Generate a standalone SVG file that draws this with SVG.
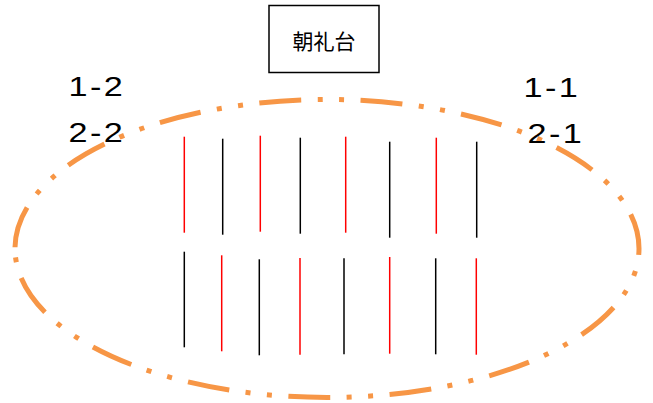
<svg xmlns="http://www.w3.org/2000/svg" width="653" height="403" viewBox="0 0 653 403">
<style>
.lbl{font-family:"Liberation Sans","Noto Sans CJK JP",sans-serif;font-size:28.5px;fill:#000;letter-spacing:2px}
.r{stroke:#ff0000;stroke-width:1.5}
.k{stroke:#000;stroke-width:1.5}
</style>
<rect width="653" height="403" fill="#fff"/>
<g id="ellipse">
<path d="M15,248.5 A312,149 0 1 1 639,248.5 A312,149 0 1 1 15,248.5" fill="none" stroke="#f79646" stroke-width="5" stroke-dasharray="42 16.5 5 16.5 5 16.4" stroke-dashoffset="-1.3"/>
</g>
<g id="stage">
<rect x="269" y="5.5" width="110" height="67" fill="#fff" stroke="#000" stroke-width="1.5"/>
<text x="324" y="49" text-anchor="middle" font-family="'Noto Sans CJK JP',sans-serif" font-size="21" fill="#000">朝礼台</text>
</g>
<g id="labels">
<text class="lbl" transform="translate(68.5,96) scale(1.2,1)">1-2</text>
<text class="lbl" transform="translate(68.5,142) scale(1.2,1)">2-2</text>
<text class="lbl" transform="translate(523.5,97) scale(1.2,1)">1-1</text>
<text class="lbl" transform="translate(527.5,143) scale(1.2,1)">2-1</text>
</g>
<g id="connectors">
<line class="r" x1="184.3" y1="136.7" x2="184.3" y2="232.7"/>
<line class="k" x1="222.7" y1="138.7" x2="222.7" y2="234.7"/>
<line class="r" x1="260.3" y1="135.7" x2="260.3" y2="231.7"/>
<line class="k" x1="300.3" y1="137.7" x2="300.3" y2="233.7"/>
<line class="r" x1="345.7" y1="136.7" x2="345.7" y2="232.7"/>
<line class="k" x1="389.7" y1="141.7" x2="389.7" y2="237.7"/>
<line class="r" x1="436.3" y1="137.7" x2="436.3" y2="233.7"/>
<line class="k" x1="476.7" y1="141.7" x2="476.7" y2="237.7"/>
<line class="k" x1="184.3" y1="251.7" x2="184.3" y2="347.3"/>
<line class="r" x1="221.7" y1="255.3" x2="221.7" y2="351.3"/>
<line class="k" x1="259.3" y1="259.3" x2="259.3" y2="355.3"/>
<line class="r" x1="300" y1="258" x2="300" y2="354.7"/>
<line class="k" x1="344" y1="258.3" x2="344" y2="354.3"/>
<line class="r" x1="389.7" y1="257" x2="389.7" y2="353.7"/>
<line class="k" x1="435.7" y1="258.3" x2="435.7" y2="354.3"/>
<line class="r" x1="476.3" y1="258.3" x2="476.3" y2="354.7"/>
</g>
</svg>
